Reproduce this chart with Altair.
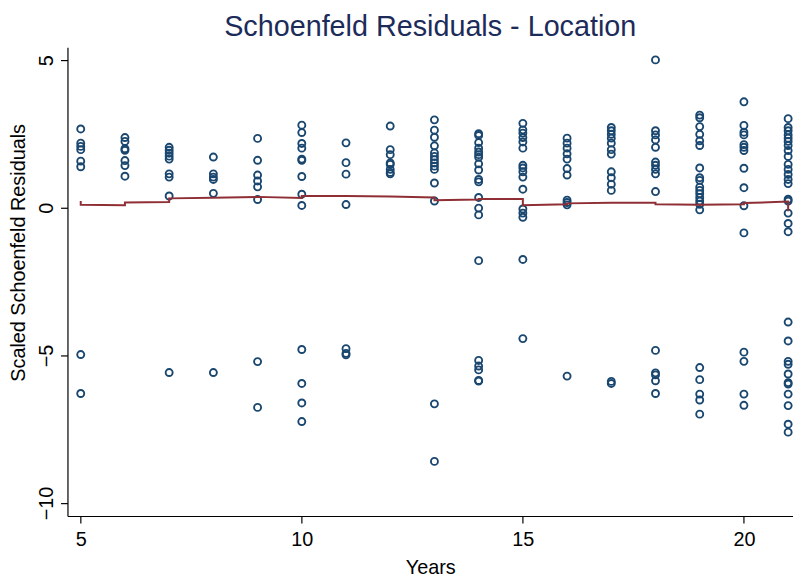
import altair as alt
import pandas as pd

# Scaled Schoenfeld residuals, grouped by year
res_5 = [2.67, 2.19, 2.08, 1.97, 1.58, 1.39, -4.97, -6.29]
res_6 = [2.38, 2.25, 2.0, 1.95, 1.60, 1.43, 1.07]
res_7 = [2.05, 1.95, 1.85, 1.75, 1.65, 1.15, 1.04, 0.40, -5.58]
res_8 = [1.72, 1.15, 1.04, 0.96, 0.49, -5.58]
res_9 = [2.35, 1.61, 1.11, 0.91, 0.71, 0.28, -5.21, -6.76]
res_10 = [2.80, 2.55, 2.18, 2.02, 1.65, 1.61, 1.06, 0.46, 0.08, -4.80, -5.95, -6.61, -7.24]
res_11 = [2.20, 1.53, 1.14, 0.11, -4.77, -4.93, -4.98]
res_12 = [2.77, 1.97, 1.80, 1.52, 1.47, 1.30, 1.20, 1.15]
res_13 = [2.98, 2.63, 2.39, 2.10, 1.86, 1.74, 1.63, 1.52, 1.41, 1.30, 0.84, 0.23, -6.64, -8.59]
res_14 = [2.51, 2.45, 2.21, 2.02, 1.89, 1.80, 1.71, 1.49, 1.28, 0.96, 0.88, 0.35, -0.01, -0.24, -1.79,
          -5.17, -5.36, -5.49, -5.85, -5.87]
res_15 = [2.86, 2.64, 2.53, 2.38, 2.23, 2.02, 1.44, 1.35, 1.22, 1.04, 0.63, -0.04, -0.18, -0.32, -1.75, -4.43]
res_16 = [2.36, 2.19, 2.02, 1.83, 1.65, 1.33, 1.11, 0.26, 0.18, 0.10, -5.70]
res_17 = [2.72, 2.61, 2.49, 2.36, 2.19, 1.97, 1.82, 1.22, 1.02, 0.80, 0.59, -5.88, -5.95]
res_18 = [5.01, 2.61, 2.47, 2.30, 2.05, 1.55, 1.44, 1.30, 1.15, 0.55, -4.83, -5.59, -5.66, -5.86, -6.29]
res_19 = [3.14, 3.05, 2.75, 2.49, 2.27, 2.11, 1.35, 1.02, 0.93, 0.70, 0.59, 0.48, 0.35, 0.23, 0.12, -0.07,
          -5.41, -5.82, -6.31, -6.51, -6.99]
res_20 = [3.59, 2.79, 2.56, 2.47, 2.14, 2.05, 1.94, 1.34, 0.68, 0.07, -0.85, -4.89, -5.20, -6.31, -6.69]
res_21 = [3.02, 2.72, 2.61, 2.47, 2.36, 2.25, 2.11, 1.94, 1.74, 1.47, 1.30, 1.13, 0.96, 0.82, 0.29, 0.23,
          -0.18, -0.53, -0.81, -3.87, -4.51, -5.20, -5.30, -5.63, -5.92, -5.97, -6.31, -6.70, -7.33, -7.60]

residuals_by_year = {5: res_5, 6: res_6, 7: res_7, 8: res_8, 9: res_9, 10: res_10, 11: res_11,
                     12: res_12, 13: res_13, 14: res_14, 15: res_15, 16: res_16, 17: res_17,
                     18: res_18, 19: res_19, 20: res_20, 21: res_21}

# Smoothed line (step-like)
line_x = [5, 5, 6, 6, 7, 7, 8, 9, 10, 10, 11, 12, 13, 13, 14, 14, 15, 15, 16, 16, 17, 18, 18, 19, 20, 20, 21, 21]
line_y = [0.23, 0.10, 0.09, 0.18, 0.20, 0.32, 0.34, 0.37, 0.33, 0.40, 0.40, 0.38, 0.35, 0.26, 0.28, 0.30,
          0.30, 0.09, 0.12, 0.15, 0.17, 0.17, 0.12, 0.10, 0.12, 0.16, 0.21, -0.12]

x_ticks = [5, 10, 15, 20]
y_ticks = [5, 0, -5, -10]

rows = []
for yr, vals in residuals_by_year.items():
    for v in vals:
        rows.append({"year": yr, "res": v})
pts = pd.DataFrame(rows)
ln = pd.DataFrame({"year": line_x, "fit": line_y, "order": list(range(len(line_x)))})

xscale = alt.Scale(domain=[4.70, 21.11], nice=False, zero=False)
yscale = alt.Scale(domain=[-10.44, 5.44], nice=False, zero=False)

FONT = "Liberation Sans"

xaxis = alt.Axis(values=x_ticks, title="Years", grid=False, labelFontSize=20, titleFontSize=20,
                 labelFont=FONT, titleFont=FONT, titleFontWeight="normal", labelColor="black",
                 titleColor="black", domainColor="black", tickColor="black", tickSize=7,
                 labelPadding=7, titlePadding=8, domainWidth=1.2, tickWidth=1.2)
yaxis = alt.Axis(values=y_ticks, title="Scaled Schoenfeld Residuals", grid=False, labelFontSize=20,
                 titleFontSize=20, labelFont=FONT, titleFont=FONT, titleFontWeight="normal",
                 labelColor="black", titleColor="black", domainColor="black", tickColor="black",
                 tickSize=7, labelAngle=270, labelAlign="center", labelBaseline="bottom",
                 labelPadding=4, titleY=207, titleX=-39, titleAngle=270, titleBaseline="bottom",
                 titleAlign="center", domainWidth=1.2, tickWidth=1.2)

points = alt.Chart(pts).mark_point(shape="circle", filled=False, color="#1a476f", size=50,
                                   strokeWidth=1.9, opacity=1).encode(
    x=alt.X("year:Q", scale=xscale, axis=xaxis),
    y=alt.Y("res:Q", scale=yscale, axis=yaxis),
)

line = alt.Chart(ln).mark_line(color="#8f2f35", strokeWidth=2).encode(
    x=alt.X("year:Q", scale=xscale),
    y=alt.Y("fit:Q", scale=yscale),
    order="order:Q",
)

chart = alt.layer(points, line).properties(
    width=732, height=473,
    title=alt.TitleParams("Schoenfeld Residuals - Location", fontSize=29, font=FONT,
                          fontWeight="normal", color="#1c2b59", anchor="middle", offset=5),
    autosize=alt.AutoSizeParams(type="none"),
    padding={"left": 60, "top": 37, "right": 0, "bottom": 62},
    background="white",
).configure_view(stroke=None)

chart.save("out.html", embed_options={"renderer": "svg", "actions": False})
